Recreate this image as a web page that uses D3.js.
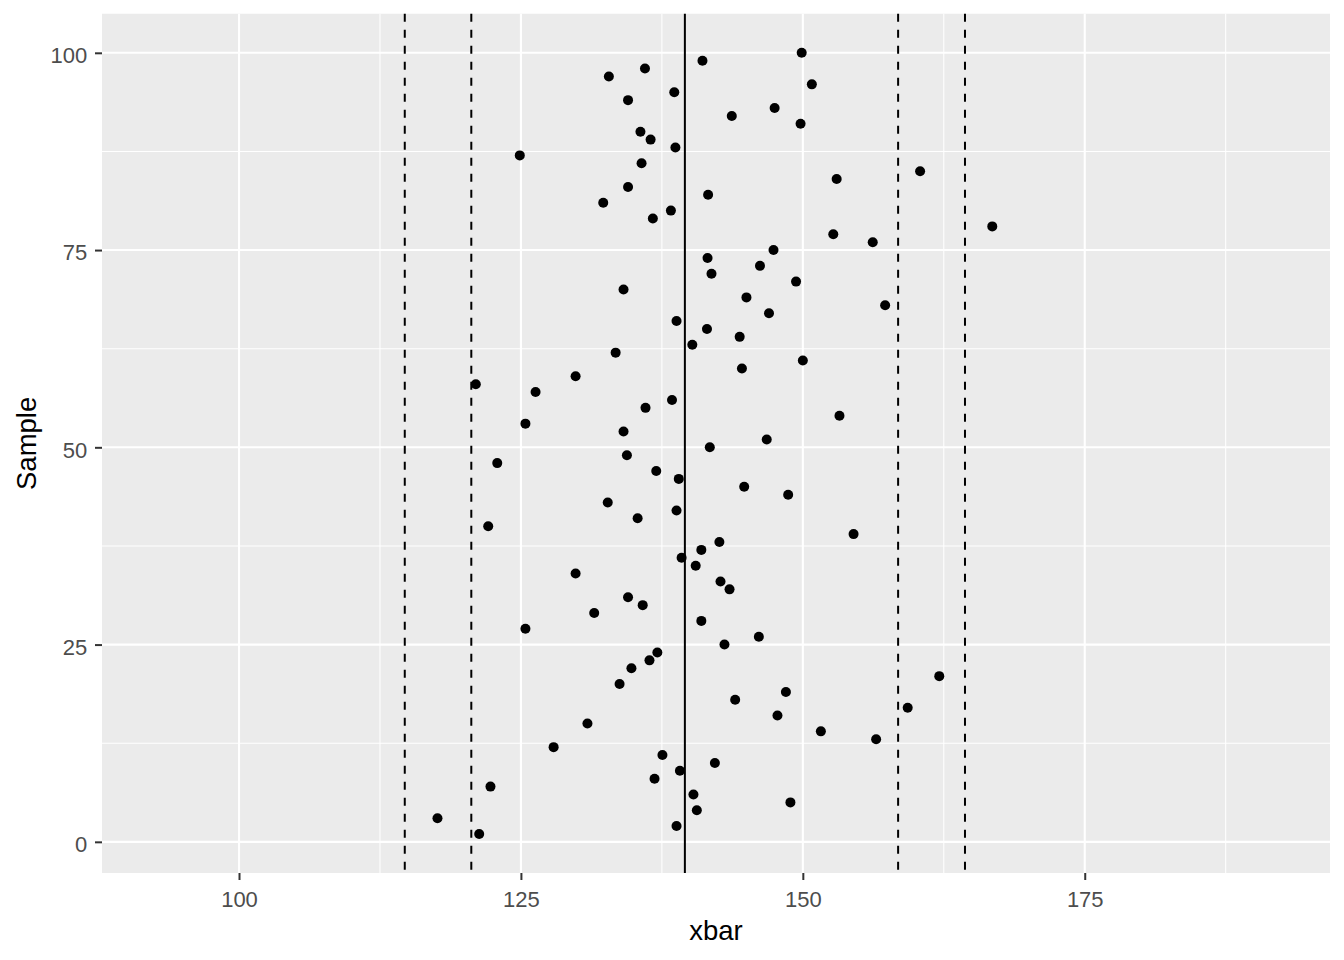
<!DOCTYPE html>
<html>
<head>
<meta charset="utf-8">
<script src="https://cdn.jsdelivr.net/npm/d3@7"></script>
<style>
  html, body { margin: 0; padding: 0; background: #ffffff; }
  svg { display: block; }
</style>
</head>
<body>
<script>
// ---- data ----
const samples = [1,2,3,4,5,6,7,8,9,10,11,12,13,14,15,16,17,18,19,20,
  21,22,23,24,25,26,27,28,29,30,31,32,33,34,35,36,37,38,39,40,
  41,42,43,44,45,46,47,48,49,50,51,52,53,54,55,56,57,58,59,60,
  61,62,63,64,65,66,67,68,69,70,71,72,73,74,75,76,77,78,79,80,
  81,82,83,84,85,86,87,88,89,90,91,92,93,94,95,96,97,98,99,100];
const xbar = [121.3,138.8,117.6,140.6,148.9,140.3,122.3,136.85,139.1,142.2,
  137.55,127.9,156.5,151.6,130.9,147.75,159.3,144.0,148.5,133.75,
  162.1,134.8,136.4,137.1,143.05,146.1,125.4,141.0,131.5,135.8,
  134.5,143.5,142.7,129.85,140.5,139.25,141.0,142.6,154.5,122.1,
  135.35,138.8,132.7,148.7,144.8,139.0,137.0,122.9,134.4,141.75,
  146.8,134.1,125.4,153.25,136.05,138.4,126.3,121.0,129.85,144.6,
  150.0,133.4,140.2,144.4,141.5,138.8,147.0,157.3,145.0,134.1,
  149.4,141.9,146.2,141.55,147.4,156.2,152.7,166.8,136.7,138.3,
  132.3,141.6,134.5,153.0,160.4,135.7,124.9,138.7,136.5,135.6,
  149.8,143.7,147.5,134.5,138.6,150.8,132.8,136.0,141.1,149.9];
const centerLine = [139.54];
const limitLines = [114.7, 120.6, 158.45, 164.38];
const xTicks = [100, 125, 150, 175];
const xMinor = [112.5, 137.5, 162.5, 187.5];
const yTicks = [0, 25, 50, 75, 100];
const yMinor = [12.5, 37.5, 62.5, 87.5];
const xDomain = [87.85, 196.75];
const yDomain = [-3.95, 104.95];
const xTitle = "xbar";
const yTitle = "Sample";

// ---- layout ----
const W = 1344, H = 960;
const panel = {left: 102, right: 1330, top: 13.75, bottom: 873};
const FONT = "'Liberation Sans', Arial, sans-serif";

const svg = d3.select("body").append("svg")
  .attr("width", W).attr("height", H);

const x = d3.scaleLinear().domain(xDomain).range([panel.left, panel.right]);
const y = d3.scaleLinear().domain(yDomain).range([panel.bottom, panel.top]);

// panel background
svg.append("rect")
  .attr("x", panel.left).attr("y", panel.top)
  .attr("width", panel.right - panel.left)
  .attr("height", panel.bottom - panel.top)
  .attr("fill", "#EBEBEB");

const grid = svg.append("g");
// minor grid
grid.selectAll("line.xminor").data(xMinor).join("line")
  .attr("class", "xminor")
  .attr("x1", d => x(d)).attr("x2", d => x(d))
  .attr("y1", panel.top).attr("y2", panel.bottom)
  .attr("stroke", "#fff").attr("stroke-width", 1.05);
grid.selectAll("line.yminor").data(yMinor).join("line")
  .attr("class", "yminor")
  .attr("y1", d => y(d)).attr("y2", d => y(d))
  .attr("x1", panel.left).attr("x2", panel.right)
  .attr("stroke", "#fff").attr("stroke-width", 1.05);
// major grid
grid.selectAll("line.xmajor").data(xTicks).join("line")
  .attr("class", "xmajor")
  .attr("x1", d => x(d)).attr("x2", d => x(d))
  .attr("y1", panel.top).attr("y2", panel.bottom)
  .attr("stroke", "#fff").attr("stroke-width", 2.1);
grid.selectAll("line.ymajor").data(yTicks).join("line")
  .attr("class", "ymajor")
  .attr("y1", d => y(d)).attr("y2", d => y(d))
  .attr("x1", panel.left).attr("x2", panel.right)
  .attr("stroke", "#fff").attr("stroke-width", 2.1);

// points
svg.append("g").selectAll("circle").data(samples).join("circle")
  .attr("cx", (d, i) => x(xbar[i]))
  .attr("cy", d => y(d))
  .attr("r", 5)
  .attr("fill", "#000");

// vertical lines
svg.append("g").selectAll("line").data(centerLine).join("line")
  .attr("x1", d => x(d)).attr("x2", d => x(d))
  .attr("y1", panel.top).attr("y2", panel.bottom)
  .attr("stroke", "#000").attr("stroke-width", 2);
svg.append("g").selectAll("line").data(limitLines).join("line")
  .attr("x1", d => x(d)).attr("x2", d => x(d))
  .attr("y1", panel.top).attr("y2", panel.bottom)
  .attr("stroke", "#000").attr("stroke-width", 2)
  .attr("stroke-dasharray", "8,8");

// axes
const xAxis = svg.append("g")
  .attr("transform", `translate(0,${panel.bottom})`)
  .call(d3.axisBottom(x).tickValues(xTicks).tickSize(7).tickPadding(11).tickFormat(d3.format("d")));
const yAxis = svg.append("g")
  .attr("transform", `translate(${panel.left},0)`)
  .call(d3.axisLeft(y).tickValues(yTicks).tickSize(7).tickPadding(7.7).tickFormat(d3.format("d")));

[xAxis, yAxis].forEach(g => {
  g.select(".domain").remove();
  g.selectAll(".tick line").attr("stroke", "#333333").attr("stroke-width", 2);
  g.selectAll(".tick text")
    .attr("fill", "#4D4D4D")
    .style("font-family", FONT)
    .style("font-size", "22px");
});
yAxis.selectAll(".tick text").attr("dy", "0.45em");
xAxis.selectAll(".tick text").attr("dy", "0.71em");

// titles
svg.append("text")
  .attr("x", (panel.left + panel.right) / 2)
  .attr("y", 940)
  .attr("text-anchor", "middle")
  .style("font-family", FONT)
  .style("font-size", "27.5px")
  .attr("fill", "#000")
  .text(xTitle);

svg.append("text")
  .attr("transform", `translate(36,${(panel.top + panel.bottom) / 2}) rotate(-90)`)
  .attr("text-anchor", "middle")
  .style("font-family", FONT)
  .style("font-size", "27.5px")
  .attr("fill", "#000")
  .text(yTitle);
</script>
</body>
</html>
